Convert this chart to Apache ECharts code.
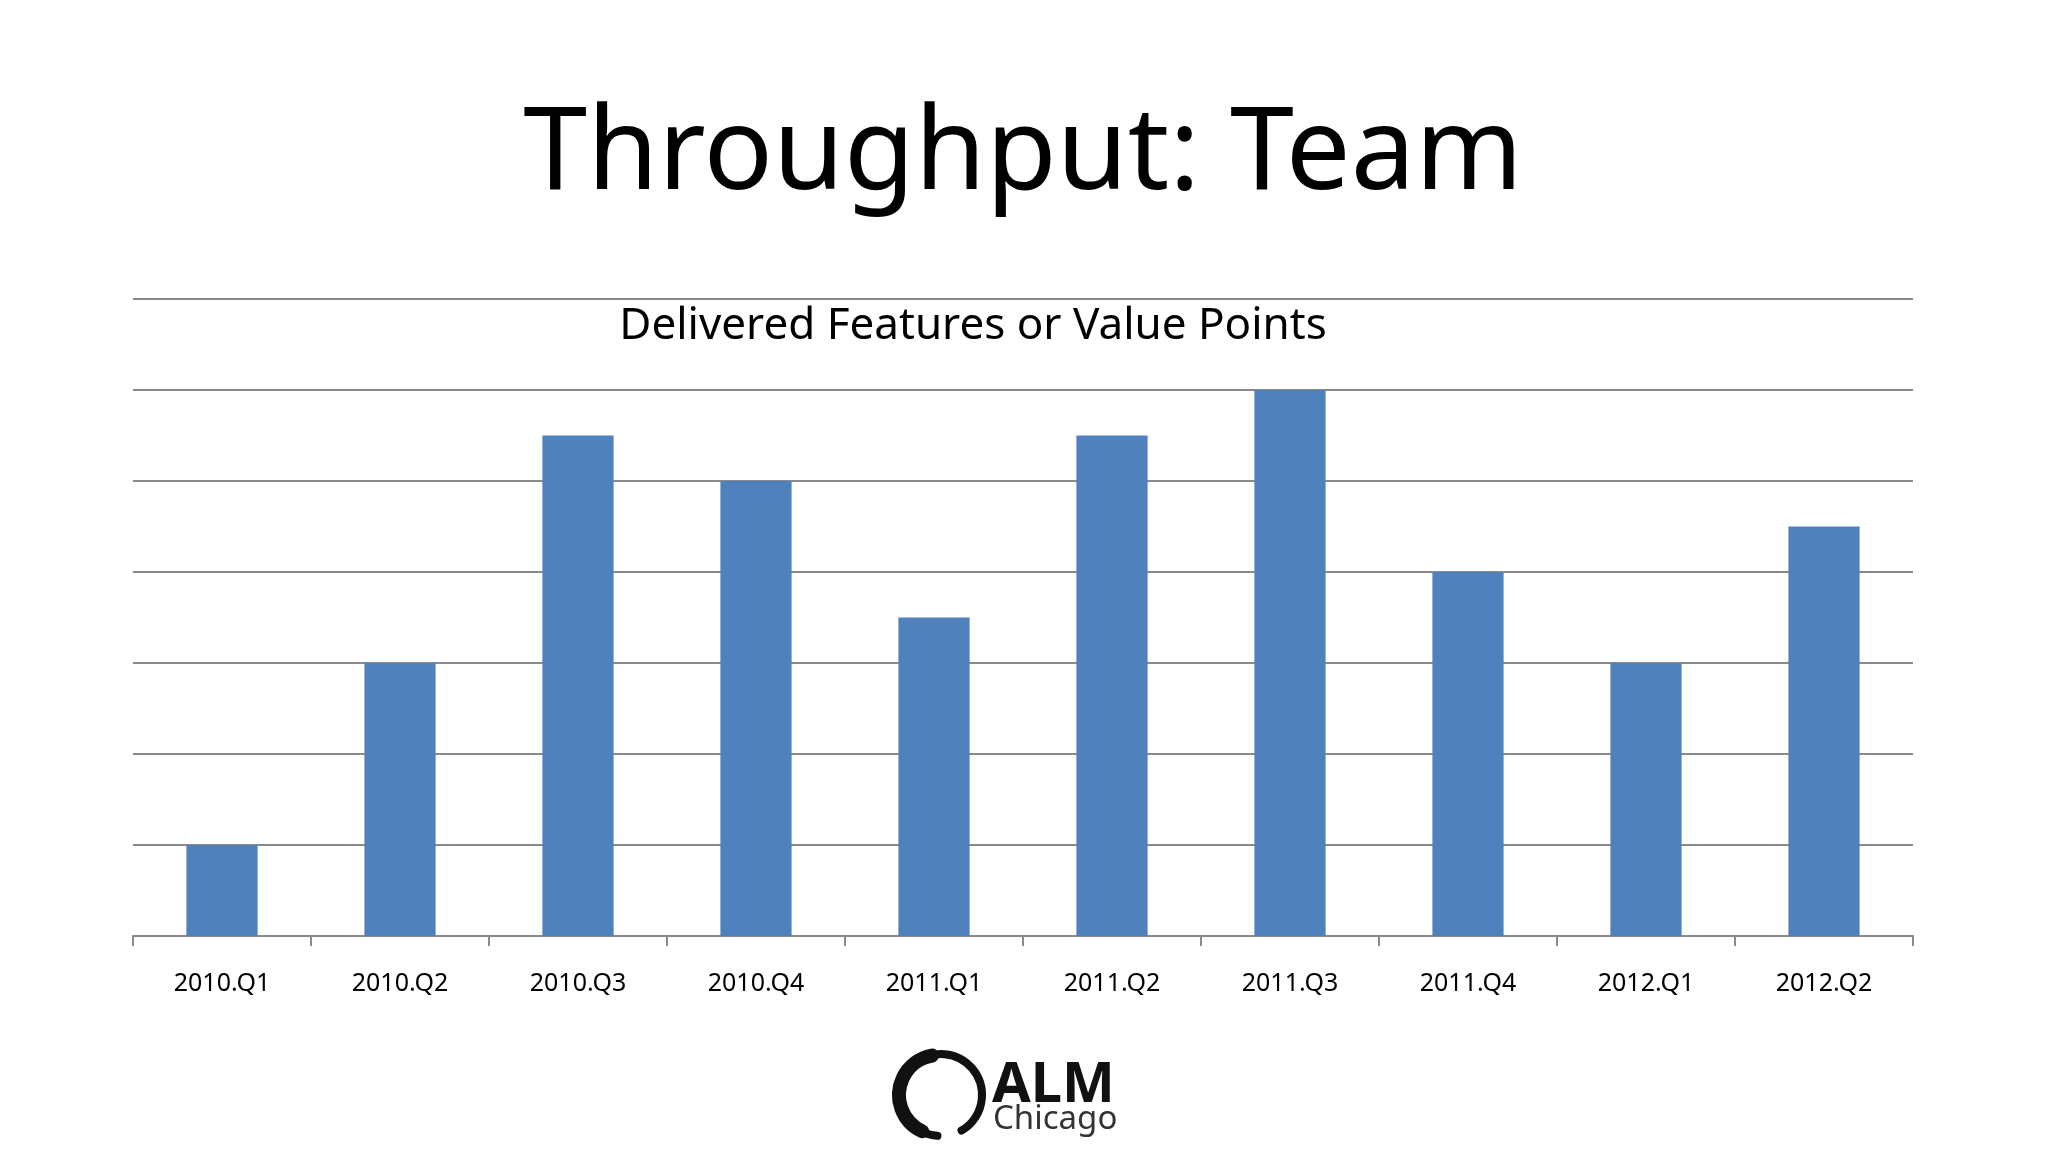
<!DOCTYPE html>
<html>
<head>
<meta charset="utf-8">
<script src="https://cdn.jsdelivr.net/npm/echarts@6/dist/echarts.min.js"></script>
<style>
html,body{margin:0;padding:0;background:#ffffff;}
#chart{width:2048px;height:1152px;}
</style>
</head>
<body>
<div id="chart"></div>
<script>
var categories = ['2010.Q1','2010.Q2','2010.Q3','2010.Q4','2011.Q1','2011.Q2','2011.Q3','2011.Q4','2012.Q1','2012.Q2'];
var delivered = [1, 3, 5.5, 5, 3.5, 5.5, 6, 4, 3, 4.5];
var titleText = 'Throughput: Team';
var subtitleText = 'Delivered Features or Value Points';

var chart = echarts.init(document.getElementById('chart'));
var font = '"Noto Sans", "Open Sans", sans-serif';
chart.setOption({
  backgroundColor: '#ffffff',
  animation: false,
  title: [
    {
      text: titleText,
      left: 1023, top: 99, textAlign: 'center', padding: 0,
      textStyle: {fontFamily: font, fontSize: 115, lineHeight: 115, fontWeight: 'normal', color: '#000000'}
    },
    {
      text: subtitleText,
      left: 973, top: 304, textAlign: 'center', padding: 0,
      textStyle: {fontFamily: font, fontSize: 44, lineHeight: 44, fontWeight: 'normal', color: '#000000'}
    }
  ],
  grid: {left: 133, right: 135, top: 299, bottom: 216, containLabel: false},
  xAxis: {
    type: 'category',
    data: categories,
    boundaryGap: true,
    axisLine: {show: true, lineStyle: {color: '#8a8a8a', width: 2}},
    axisTick: {show: true, alignWithLabel: false, length: 10, lineStyle: {color: '#8a8a8a', width: 2}},
    axisLabel: {fontFamily: font, fontSize: 25, color: '#000000', margin: 35}
  },
  yAxis: {
    type: 'value',
    min: 0, max: 7, interval: 1,
    axisLine: {show: false},
    axisTick: {show: false},
    axisLabel: {show: false},
    splitLine: {show: true, lineStyle: {color: '#8a8a8a', width: 2}}
  },
  series: [{
    type: 'bar',
    data: delivered,
    barWidth: '40%',
    itemStyle: {color: '#4F81BD'}
  }],
  graphic: [
    {type: 'arc', shape: {cx: 941, cy: 1095, r: 41, startAngle: 95 * Math.PI / 180, endAngle: 420 * Math.PI / 180, clockwise: true},
      style: {stroke: '#111111', lineWidth: 8, fill: null, lineCap: 'round'}},
    {type: 'arc', shape: {cx: 939, cy: 1095, r: 40, startAngle: 115 * Math.PI / 180, endAngle: 260 * Math.PI / 180, clockwise: true},
      style: {stroke: '#111111', lineWidth: 14, fill: null, lineCap: 'round'}},
    {type: 'text', left: 992, top: 1058,
      style: {text: 'ALM', fontFamily: font, fontSize: 56, fontWeight: 'bold', fill: '#111111'}},
    {type: 'text', left: 993, top: 1103,
      style: {text: 'Chicago', fontFamily: font, fontSize: 33, fill: '#333333'}}
  ]
});
</script>
</body>
</html>
